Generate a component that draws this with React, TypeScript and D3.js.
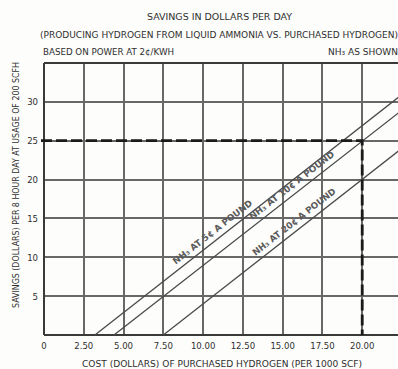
import React from "react";
import * as d3 from "d3";

const costTicks = [0, 2.5, 5, 7.5, 10, 12.5, 15, 17.5, 20];
const costTickLabels = ["0", "2.50", "5.00", "7.50", "10.00", "12.50", "15.00", "17.50", "20.00"];
const savingsTicks = [5, 10, 15, 20, 25, 30];
const savingsTickLabels = ["5", "10", "15", "20", "25", "30"];

const lineNames = ["NH₃ AT 5¢ A POUND", "NH₃ AT 10¢ A POUND", "NH₃ AT 20¢ A POUND"];
const line5c: [number, number][] = [[3.2, 0], [22.6, 31.1]];
const line10c: [number, number][] = [[4.4, 0], [22.6, 29.1]];
const line20c: [number, number][] = [[7.5, 0], [22.6, 24.2]];
const labelStartCost = [8.5, 13.3, 13.5];
const labelLengths = [98, 105, 103];

const targetCost = 20;
const targetSavings = 25;

const W = 398, H = 369;
const FONT = "'DejaVu Sans Condensed', 'Liberation Sans Narrow', 'DejaVu Sans', sans-serif";
const TXT = "#2f2f2f";

export default function App() {
  const x = d3.scaleLinear().domain([0, 22.5]).range([44, 402]);
  const y = d3.scaleLinear().domain([0, 35]).range([335, 63]);
  const lines = [line5c, line10c, line20c];
  const lineGen = d3.line<[number, number]>().x(d => x(d[0])).y(d => y(d[1]));
  const vGrid = d3.range(2.5, 22.6, 2.5);
  const xRight = W;

  const labels = lines.map((pts, i) => {
    const [p0, p1] = pts;
    const slope = (p1[1] - p0[1]) / (p1[0] - p0[0]);
    const c = labelStartCost[i];
    const s = p0[1] + slope * (c - p0[0]);
    const px = x(c), py = y(s);
    const dx = x(p1[0]) - x(p0[0]);
    const dy = y(p1[1]) - y(p0[1]);
    const ang = (Math.atan2(dy, dx) * 180) / Math.PI;
    const len = Math.hypot(dx, dy);
    const nx = dy / len, ny = -dx / len;
    const off = 5.5;
    return { x: px + nx * off, y: py + ny * off, ang, name: lineNames[i], len: labelLengths[i] };
  });

  return (
    <svg width={W} height={H} viewBox={`0 0 ${W} ${H}`} style={{ display: "block", position: "absolute", left: 0, top: 0 }}>
      <rect x={0} y={0} width={W} height={H} fill="#fdfdfb" />
      <g fontFamily={FONT} fill={TXT} fontSize={9.5}>
        <text x={219.5} y={19.5} textAnchor="middle" textLength={145} lengthAdjust="spacingAndGlyphs">SAVINGS IN DOLLARS PER DAY</text>
        <text x={40} y={38} textLength={358} lengthAdjust="spacingAndGlyphs">(PRODUCING HYDROGEN FROM LIQUID AMMONIA VS. PURCHASED HYDROGEN)</text>
        <text x={43} y={55} textLength={131} lengthAdjust="spacingAndGlyphs">BASED ON POWER AT 2¢/KWH</text>
        <text x={328} y={55} textLength={70} lengthAdjust="spacingAndGlyphs">NH₃ AS SHOWN</text>
      </g>
      <g stroke="#686868" strokeWidth={1.7} shapeRendering="crispEdges">
        {vGrid.map(v => (
          <line key={"v" + v} x1={Math.round(x(v))} x2={Math.round(x(v))} y1={y(0)} y2={y(35)} />
        ))}
        {savingsTicks.map(v => (
          <line key={"h" + v} x1={x(0)} x2={xRight} y1={Math.round(y(v))} y2={Math.round(y(v))} />
        ))}
      </g>
      <g stroke="#3a3a3a" strokeWidth={2} shapeRendering="crispEdges">
        <line x1={x(0)} x2={x(0)} y1={y(0)} y2={y(35)} />
        <line x1={x(0)} x2={xRight} y1={y(35)} y2={y(35)} />
        <line x1={x(0)} x2={xRight} y1={y(0)} y2={y(0)} />
      </g>
      {lines.map((pts, i) => (
        <path key={"l" + i} d={lineGen(pts) || ""} fill="none" stroke="#4a4a4a" strokeWidth={1.3} />
      ))}
      <path
        d={`M${x(0) - 3},${y(targetSavings)}H${x(targetCost)}V${y(0)}`}
        fill="none"
        stroke="#1a1a1a"
        strokeWidth={2.8}
        strokeDasharray="11,4"
      />
      <g fontFamily={FONT} fill="#5a5a5a" fontSize={9} fontWeight="bold">
        {labels.map((l, i) => (
          <text key={"t" + i} x={l.x} y={l.y} transform={`rotate(${l.ang},${l.x},${l.y})`} textLength={l.len} lengthAdjust="spacingAndGlyphs">{l.name}</text>
        ))}
      </g>
      <g fontFamily={FONT} fill={TXT} fontSize={9.5}>
        {costTicks.map((v, i) => (
          <text key={"xt" + v} x={x(v)} y={348.5} textAnchor="middle">{costTickLabels[i]}</text>
        ))}
        {savingsTicks.map((v, i) => (
          <text key={"yt" + v} x={38} y={y(v) + 3.5} textAnchor="end">{savingsTickLabels[i]}</text>
        ))}
      </g>
      <g fontFamily={FONT} fill={TXT} fontSize={9.5}>
        <text x={222} y={366.5} textAnchor="middle" textLength={280} lengthAdjust="spacingAndGlyphs">COST (DOLLARS) OF PURCHASED HYDROGEN (PER 1000 SCF)</text>
        <text x={0} y={0} textAnchor="middle" transform="translate(19,185) rotate(-90)" textLength={246} lengthAdjust="spacingAndGlyphs">SAVINGS (DOLLARS) PER 8 HOUR DAY AT USAGE OF 200 SCFH</text>
      </g>
    </svg>
  );
}
